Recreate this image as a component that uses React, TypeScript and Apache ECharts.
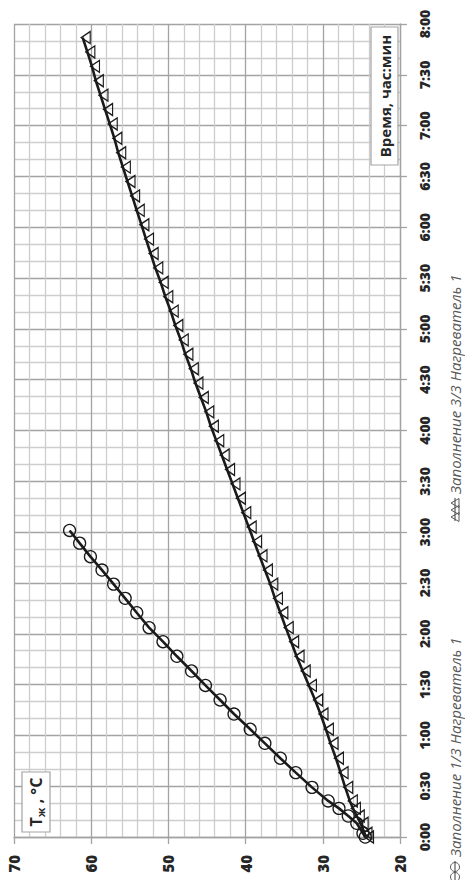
import React, { useEffect, useRef } from "react";
import * as echarts from "echarts";

const SERIES_NAMES = ["Заполнение 1/3 Нагреватель 1", "Заполнение 3/3 Нагреватель 1"];
const X_TITLE = "Время, час:мин";

// Series 1 (circles): time in minutes, liquid temperature °C
const circleTimes = [0, 2.2, 8.1, 12.4, 16.9, 21.3, 29.3, 38, 46.5, 55.3, 63.6, 72.6, 80.9, 89.5, 98, 106.7, 115.3, 123.6, 132.4, 140.9, 149.3, 157.6, 165.5, 173.5, 181];
const circleTemps = [24.5, 24.8, 25.6, 26.7, 27.9, 29.3, 31.4, 33.5, 35.5, 37.5, 39.4, 41.5, 43.3, 45.2, 47.0, 48.9, 50.7, 52.5, 54.1, 55.6, 57.1, 58.6, 60.1, 61.5, 62.8];

// Series 2 (triangles)
const triTimes = [0, 2.2, 8.1, 12.4, 16.9, 21.3, 29.3, 38, 46.5, 55.3, 63.6, 72.6, 80.9, 89.5, 98, 106.7, 115.3, 123.6, 132.4, 140.9, 149.3, 157.6, 166, 174.5, 183, 191.5, 200, 208.5, 217, 225.5, 234, 242.5, 251, 259.5, 268, 276.5, 285, 293.5, 302, 310.5, 319, 327.5, 336, 344.5, 353, 361.5, 370, 378.5, 387, 395.5, 404, 412.5, 421, 429.5, 438, 446.5, 455, 463.5, 472];
const triTemps = [24.4, 24.6, 25.1, 25.6, 26.1, 26.5, 27.1, 27.7, 28.3, 29.0, 29.6, 30.3, 31.0, 31.8, 32.6, 33.4, 34.1, 34.8, 35.5, 36.2, 36.8, 37.5, 38.2, 38.9, 39.6, 40.3, 41.0, 41.7, 42.4, 43.1, 43.8, 44.5, 45.1, 45.8, 46.5, 47.1, 47.8, 48.4, 49.1, 49.7, 50.4, 51.0, 51.7, 52.3, 52.9, 53.5, 54.1, 54.7, 55.3, 55.9, 56.5, 57.0, 57.6, 58.2, 58.8, 59.4, 59.9, 60.5, 61.1];

const TEMP_MIN = 20;
const TEMP_MAX = 70;
const TEMP_STEP = 10;
const TIME_MIN = 0;
const TIME_MAX = 480;
const TIME_STEP = 30;

const FONT = '"Open Sans", "Noto Sans", sans-serif';
const MAJOR = "#a3a3a3";
const MINOR = "#cdcdcd";
const INK = "#1a1a1a";
const LEG = "#595959";

function fmtTime(m: number): string {
  const h = Math.floor(m / 60);
  const mm = Math.round(m % 60);
  return `${h}:${mm < 10 ? "0" : ""}${mm}`;
}

export default function App() {
  const ref = useRef<HTMLDivElement>(null);
  useEffect(() => {
    if (!ref.current) return;
    const chart = echarts.init(ref.current, null, { renderer: "svg" });
    const R = Math.PI / 2;
    const tri = (cy: number) => ({
      type: "polygon",
      z: 10,
      shape: { points: [[451, cy], [459, cy - 4.5], [459, cy + 4.5]] },
      style: { fill: "none", stroke: LEG, lineWidth: 1 },
    });
    const option: any = {
      animation: false,
      backgroundColor: "#ffffff",
      grid: { left: 14, right: 65, top: 24, bottom: 43, containLabel: false },
      xAxis: {
        type: "value",
        min: TEMP_MIN,
        max: TEMP_MAX,
        interval: TEMP_STEP,
        inverse: true,
        position: "bottom",
        axisLine: { show: true, lineStyle: { color: MAJOR, width: 1.3 } },
        axisTick: { show: true, length: 7, lineStyle: { color: MAJOR, width: 1.3 } },
        axisLabel: { rotate: 90, margin: 18, fontFamily: FONT, fontWeight: 800, fontSize: 15, color: "#262626" },
        splitLine: { show: true, lineStyle: { color: MAJOR, width: 1.3 } },
        minorTick: { show: false, splitNumber: 5 },
        minorSplitLine: { show: true, lineStyle: { color: MINOR, width: 1.3 } },
      },
      yAxis: {
        type: "value",
        min: TIME_MIN,
        max: TIME_MAX,
        interval: TIME_STEP,
        position: "right",
        axisLine: { show: true, lineStyle: { color: MAJOR, width: 1.3 } },
        axisTick: { show: true, length: 7, lineStyle: { color: MAJOR, width: 1.3 } },
        axisLabel: { rotate: 90, margin: 17, fontFamily: FONT, fontWeight: 800, fontSize: 14, color: "#262626", formatter: (v: number) => fmtTime(v) },
        splitLine: { show: true, lineStyle: { color: MAJOR, width: 1.3 } },
        minorTick: { show: false, splitNumber: 3 },
        minorSplitLine: { show: true, lineStyle: { color: MINOR, width: 1.3 } },
      },
      series: [
        {
          name: SERIES_NAMES[0],
          type: "line",
          clip: false,
          data: circleTimes.map((t, i) => [circleTemps[i], t]),
          symbol: "circle",
          symbolSize: 12,
          showSymbol: true,
          lineStyle: { color: INK, width: 2.6 },
          itemStyle: { color: "rgba(0,0,0,0)", borderColor: INK, borderWidth: 1.3 },
          z: 3,
        },
        {
          name: SERIES_NAMES[1],
          type: "line",
          clip: false,
          data: triTimes.map((t, i) => [triTemps[i], t]),
          symbol: "triangle",
          symbolSize: [12, 9],
          symbolRotate: 90,
          symbolOffset: [3, 0],
          showSymbol: true,
          lineStyle: { color: INK, width: 2.6 },
          itemStyle: { color: "rgba(0,0,0,0)", borderColor: INK, borderWidth: 1.3 },
          z: 3,
        },
      ],
      graphic: [
        // time-axis title box
        { type: "rect", z: 10, shape: { x: 371, y: 27, width: 27, height: 138 }, style: { fill: "#ffffff", stroke: MAJOR, lineWidth: 1.2 } },
        {
          type: "text", z: 11, x: 385, y: 96, rotation: R,
          style: { text: X_TITLE, font: `bold 15px ${FONT}`, fill: "#262626", align: "center", verticalAlign: "middle", textAlign: "center", textVerticalAlign: "middle" },
        },
        // temperature-axis title box
        { type: "rect", z: 10, shape: { x: 22, y: 772, width: 28, height: 60 }, style: { fill: "#ffffff", stroke: MAJOR, lineWidth: 1.2 } },
        {
          type: "text", z: 11, x: 36, y: 802, rotation: R,
          style: {
            text: "{a|T}{b|ж}{a| , °C}",
            align: "center", verticalAlign: "middle", textAlign: "center", textVerticalAlign: "middle",
            rich: {
              a: { fontSize: 16, fontWeight: "bold", fontFamily: FONT, fill: "#262626", lineHeight: 20 },
              b: { fontSize: 11, fontWeight: "bold", fontFamily: FONT, fill: "#262626", lineHeight: 10, verticalAlign: "bottom" },
            },
          },
        },
        // legend item 1
        { type: "line", z: 10, shape: { x1: 455, y1: 861, x2: 455, y2: 882 }, style: { stroke: LEG, lineWidth: 1.2 } },
        { type: "circle", z: 10, shape: { cx: 455, cy: 867, r: 4.5 }, style: { fill: "none", stroke: LEG, lineWidth: 1 } },
        { type: "circle", z: 10, shape: { cx: 455, cy: 877, r: 4.5 }, style: { fill: "none", stroke: LEG, lineWidth: 1 } },
        {
          type: "text", z: 11, x: 455, y: 857, rotation: R,
          style: { text: SERIES_NAMES[0], font: `italic 15px ${FONT}`, fill: LEG, align: "left", verticalAlign: "middle", textAlign: "left", textVerticalAlign: "middle" },
        },
        // legend item 2
        { type: "line", z: 10, shape: { x1: 455, y1: 498, x2: 455, y2: 521 }, style: { stroke: LEG, lineWidth: 1.2 } },
        tri(503),
        tri(510),
        tri(517),
        {
          type: "text", z: 11, x: 455, y: 494, rotation: R,
          style: { text: SERIES_NAMES[1], font: `italic 15px ${FONT}`, fill: LEG, align: "left", verticalAlign: "middle", textAlign: "left", textVerticalAlign: "middle" },
        },
      ],
    };
    chart.setOption(option);
    return () => chart.dispose();
  }, []);
  return <div ref={ref} style={{ position: "fixed", left: 0, top: 0, width: 465, height: 880 }} />;
}
